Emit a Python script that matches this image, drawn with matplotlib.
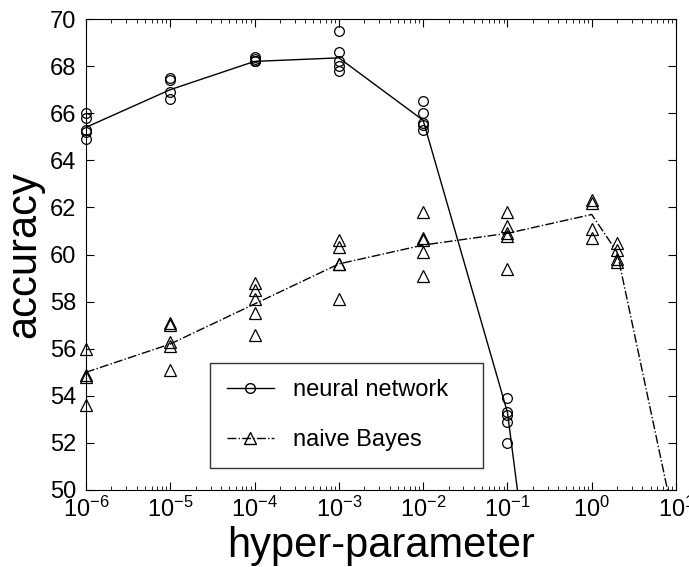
import numpy as np
import matplotlib.pyplot as plt
from matplotlib.lines import Line2D

plt.rcParams['font.family'] = ['Liberation Sans', 'DejaVu Sans']

# hyper-parameter values
nn_x = [1e-6, 1e-5, 1e-4, 1e-3, 1e-2, 1e-1]
nn_runs = [
    [66.0, 65.8, 65.3, 65.2, 64.9],
    [67.5, 67.4, 66.9, 66.6],
    [68.4, 68.3, 68.2, 68.2, 68.2],
    [69.5, 68.6, 68.2, 68.0, 67.8],
    [66.5, 66.0, 65.6, 65.5, 65.3],
    [53.9, 53.3, 53.2, 52.9, 52.0],
]
nn_mean_x = [1e-6, 1e-5, 1e-4, 1e-3, 1e-2, 1e-1, 1e0]
nn_mean = [65.4, 67.0, 68.2, 68.35, 65.7, 53.3, 25.5]

nb_x = [1e-6, 1e-5, 1e-4, 1e-3, 1e-2, 1e-1, 1e0, 2.0]
nb_runs = [
    [56.0, 54.9, 54.8, 53.6],
    [57.1, 57.0, 56.3, 56.1, 55.1],
    [58.8, 58.5, 58.1, 57.5, 56.6],
    [60.6, 60.3, 59.6, 59.6, 58.1],
    [61.8, 60.7, 60.6, 60.1, 59.1],
    [61.8, 61.2, 60.9, 60.8, 59.4],
    [62.3, 62.2, 61.1, 60.7],
    [60.5, 60.2, 59.8, 59.7],
]
nb_mean_x = [1e-6, 1e-5, 1e-4, 1e-3, 1e-2, 1e-1, 1e0, 2.0, 10.0]
nb_mean = [55.0, 56.2, 57.9, 59.6, 60.4, 60.9, 61.7, 60.1, 48.3]

fig = plt.figure(figsize=(6.89, 5.67), dpi=100)
ax = fig.add_axes([86 / 689, 1 - 490 / 567, 590 / 689, 471 / 567])

# scatter of individual runs
for xv, ys in zip(nn_x, nn_runs):
    ax.plot([xv] * len(ys), ys, 'o', mfc='none', mec='k', ms=7, mew=0.9,
            clip_on=False)
for xv, ys in zip(nb_x, nb_runs):
    ax.plot([xv] * len(ys), ys, '^', mfc='none', mec='k', ms=8, mew=0.9,
            clip_on=False)

ax.plot(nn_mean_x, nn_mean, '-', color='k', lw=1)
ax.plot(nb_mean_x, nb_mean, '-.', color='k', lw=1)

ax.set_xscale('log')
ax.set_xlim(1e-6, 1e1)
ax.set_ylim(50, 70)
ax.set_yticks(np.arange(50, 71, 2))
ax.set_xticks([10.0 ** k for k in range(-6, 2)])
ax.set_xticklabels([r'$\mathregular{10^{%d}}$' % k for k in range(-6, 2)])
ax.tick_params(which='both', direction='in', top=True, right=True,
               labelsize=17)
ax.tick_params(which='major', length=6)
ax.tick_params(which='minor', length=3)
ax.tick_params(axis='x', pad=5)
ax.tick_params(axis='y', pad=7)

ax.set_xlabel('hyper-parameter', fontsize=30, labelpad=3)
ax.set_ylabel('accuracy', fontsize=30, labelpad=4)

handles = [
    Line2D([], [], color='k', lw=1, ls='-', marker='o', mfc='none', ms=7),
    Line2D([], [], color='k', lw=1, ls='-.', marker='^', mfc='none', ms=8),
]
leg = ax.legend(handles, ['neural network', 'naive Bayes'],
                loc='lower left', mode='expand',
                bbox_to_anchor=(124 / 590, 22 / 471, 273 / 590, 100 / 471),
                fontsize=17, fancybox=False, edgecolor='k',
                handlelength=2.0, labelspacing=1.2, borderpad=0.7,
                handletextpad=0.8, borderaxespad=0)
leg.get_frame().set_linewidth(1.0)

fig.savefig('out.png', dpi=100)
